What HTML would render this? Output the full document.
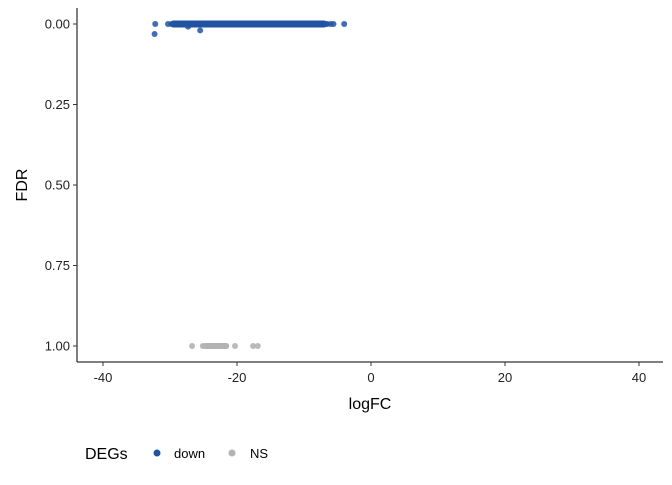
<!DOCTYPE html>
<html><head><meta charset="utf-8"><style>
body{margin:0;background:#fff;font-family:"Liberation Sans",Arial,sans-serif}
</style></head><body>
<svg id="chart" width="672" height="480" xmlns="http://www.w3.org/2000/svg">
<rect width="672" height="480" fill="#fff"/>
<g id="plot"></g>
<g id="axes"></g>
</svg>
<script>
const xTicks=[-40,-20,0,20,40];
const yTicks=[0,0.25,0.5,0.75,1];
const yTickLabels=["0.00","0.25","0.50","0.75","1.00"];
const downX=[-32.3,-32.2,-30.3,-29.8,-29.5,-29.2,-28.9,-28.6,-28.2,-27.8,-27.3,-27.0,-26.5,-26.0,-25.5,-25.0,-24.5,-24.0,-23.5,-23.0,-22.5,-22.0,-21.5,-21.0,-20.5,-20.0,-19.5,-19.0,-18.5,-18.0,-17.5,-17.0,-16.5,-16.0,-15.5,-15.0,-14.5,-14.0,-13.5,-13.0,-12.5,-12.0,-11.5,-11.0,-10.5,-10.0,-9.5,-9.0,-8.5,-8.0,-7.5,-7.2,-6.8,-6.5,-6.0,-5.6,-4.0];
const downY=[0.031,0,0,0,0,0,0,0,0,0,0.008,0,0,0,0.02,0,0,0,0,0,0,0,0,0,0,0,0,0,0,0,0,0,0,0,0,0,0,0,0,0,0,0,0,0,0,0,0,0,0,0,0,0,0,0,0,0,0];
const nsX=[-26.7,-25.1,-24.8,-24.4,-24.0,-23.6,-23.2,-22.8,-22.4,-22.0,-21.6,-20.3,-17.6,-16.9];
const nsY=[1,1,1,1,1,1,1,1,1,1,1,1,1,1];
const NS="http://www.w3.org/2000/svg";
const xs=v=>371+v*6.7;
const ys=v=>24+v*322;
function mk(t,a,p){const e=document.createElementNS(NS,t);for(const k in a)e.setAttribute(k,a[k]);p.appendChild(e);return e;}
const plot=document.getElementById('plot'),axes=document.getElementById('axes');
// dense band for down
const band=mk('rect',{x:xs(-30),y:20.5,width:xs(-6.5)-xs(-30),height:7,rx:3.5,fill:'#1f51a0'},plot);


downX.forEach((x,i)=>{const c=mk('circle',{cx:xs(x),cy:ys(downY[i]),r:3,fill:'#2155a3','fill-opacity':0.85},plot);

});
const nb=mk('rect',{x:xs(-25),y:343,width:xs(-21.2)-xs(-25),height:6,rx:3,fill:'#b5b5b5'},plot);


nsX.forEach((x,i)=>{const c=mk('circle',{cx:xs(x),cy:ys(nsY[i]),r:3,fill:'#b3b3b3','fill-opacity':0.9},plot);

});
const xl=mk('line',{x1:77,y1:362,x2:663,y2:362,stroke:'#000','stroke-width':1},axes);


const yl=mk('line',{x1:77,y1:8,x2:77,y2:362,stroke:'#000','stroke-width':1},axes);


xTicks.forEach(v=>{mk('line',{x1:xs(v),y1:362,x2:xs(v),y2:366,stroke:'#333'},axes);
const t=mk('text',{x:xs(v),y:382,'text-anchor':'middle','font-size':13,fill:'#222'},axes);t.textContent=v;

});
yTicks.forEach((v,i)=>{mk('line',{x1:73,y1:ys(v),x2:77,y2:ys(v),stroke:'#333'},axes);
const t=mk('text',{x:70,y:ys(v)+4.5,'text-anchor':'end','font-size':13,fill:'#222'},axes);t.textContent=yTickLabels[i];

});
</script>
<svg style="position:absolute;left:0;top:0" width="672" height="480" xmlns="http://www.w3.org/2000/svg">
<text x="370" y="409" text-anchor="middle" font-size="16" fill="#000">logFC</text>
<text x="0" y="0" transform="translate(27,185) rotate(-90)" text-anchor="middle" font-size="16" fill="#000">FDR</text>
<text x="85" y="459" font-size="16" fill="#000">DEGs</text>
<circle cx="157" cy="453" r="3.5" fill="#2155a3"/>
<text x="174" y="458" font-size="13" fill="#000">down</text>
<circle cx="232" cy="453" r="3.5" fill="#b3b3b3"/>
<text x="250" y="458" font-size="13" fill="#000">NS</text>
</svg>
</body></html>
